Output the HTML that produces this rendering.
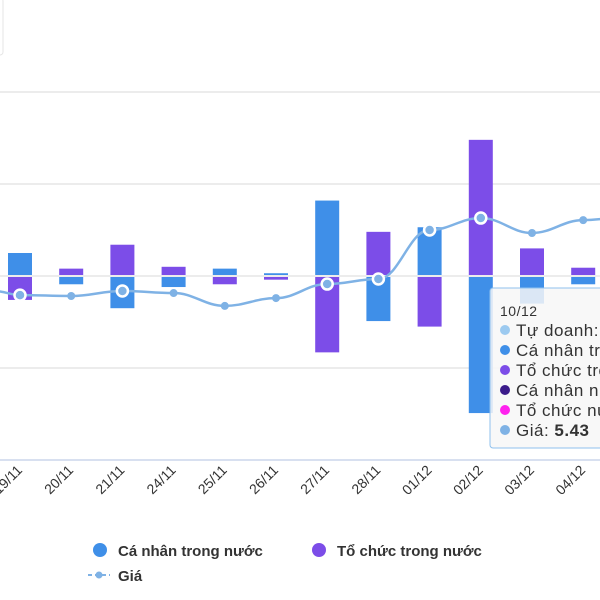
<!DOCTYPE html>
<html><head><meta charset="utf-8"><style>
html,body{margin:0;padding:0;background:#fff;width:600px;height:600px;overflow:hidden}
svg{display:block;font-family:"Liberation Sans",sans-serif}
</style></head><body>
<svg id="chart" width="600" height="600">
<rect x="-5" y="-2" width="8" height="57" rx="3" fill="#fff" stroke="#e6e6e6"/>
<g id="grid"></g><g id="bars"></g><g id="line"></g><g id="xlabels"></g>
<g>
<rect x="490" y="288" width="120" height="160" rx="3" fill="rgba(247,247,247,0.85)" stroke="#8fc1ee" stroke-width="1"/>
<text x="500" y="316" font-size="14" fill="#333" letter-spacing="0.5">10/12</text>
<circle cx="505" cy="330" r="5" fill="#9ccaf0"/><text x="516" y="336" font-size="17" fill="#333" letter-spacing="0.5">Tự doanh:</text>
<circle cx="505" cy="350" r="5" fill="#3f8fe8"/><text x="516" y="356" font-size="17" fill="#333" letter-spacing="0.5">Cá nhân trong</text>
<circle cx="505" cy="370" r="5" fill="#7c4de8"/><text x="516" y="376" font-size="17" fill="#333" letter-spacing="0.5">Tổ chức trong</text>
<circle cx="505" cy="390" r="5" fill="#3a1a8a"/><text x="516" y="396" font-size="17" fill="#333" letter-spacing="0.5">Cá nhân nước</text>
<circle cx="505" cy="410" r="5" fill="#ff22ee"/><text x="516" y="416" font-size="17" fill="#333" letter-spacing="0.5">Tổ chức nước</text>
<circle cx="505" cy="430" r="5" fill="#7fb2e5"/><text x="516" y="436" font-size="17" fill="#333" letter-spacing="0.5">Giá: <tspan font-weight="bold">5.43</tspan></text>
</g>
<g>
<g><circle cx="100" cy="550" r="7" fill="#3f8fe8"/><text x="118" y="556" font-size="15" font-weight="bold" fill="#333">Cá nhân trong nước</text></g>
<g><circle cx="319" cy="550" r="7" fill="#7c4de8"/><text x="337" y="556" font-size="15" font-weight="bold" fill="#333">Tổ chức trong nước</text></g>
<g><line x1="88" y1="575" x2="110" y2="575" stroke="#7fb2e5" stroke-width="2" stroke-dasharray="4,3"/><circle cx="99" cy="575" r="3.5" fill="#7fb2e5"/><text x="118" y="581" font-size="15" font-weight="bold" fill="#333">Giá</text></g>
</g>
</svg>
<script>
const categories=["19/11","20/11","21/11","24/11","25/11","26/11","27/11","28/11","01/12","02/12","03/12","04/12"];
const caNhan=[2.5,-0.9,-3.5,-1.2,0.8,0.3,8.2,-4.9,5.3,-14.9,-3.0,-0.9];
const toChuc=[-2.6,0.8,3.4,1.0,-0.9,-0.4,-8.3,4.8,-5.5,14.8,3.0,0.9];
const gia=[4.817,4.813,4.835,4.826,4.770,4.804,4.865,4.887,5.100,5.152,5.087,5.143];
const hollow=[true,false,true,false,false,false,true,true,true,true,false,false];
const yTicks=[-20,-10,0,10,20];
const NS="http://www.w3.org/2000/svg";
function xPos(i){return 20+i*51.2;}
function yVal(v){return 276-v*9.2;}
function yPrice(p){return 276-(p-4.9)*230;}
function mk(t,a,p){const e=document.createElementNS(NS,t);for(const k in a)e.setAttribute(k,a[k]);p.appendChild(e);return e;}
const grid=document.getElementById('grid');
yTicks.forEach(t=>{const y=yVal(t);
 const l=mk('line',{x1:0,x2:600,y1:y,y2:y,stroke:t===-20?'#ccd6eb':'#e6e6e6','stroke-width':1.5},grid);
 
 });
const bars=document.getElementById('bars');
function bar(i,v,c,name){const y0=yVal(0),y1=yVal(v);
 const r=mk('rect',{x:xPos(i)-12,y:Math.min(y0,y1)+(v>0?0:1),width:24,height:Math.max(1,Math.abs(y1-y0)-1),fill:c},bars);
 
 }
categories.forEach((c,i)=>{bar(i,caNhan[i],'#3f8fe8','bar-ca-nhan');bar(i,toChuc[i],'#7c4de8','bar-to-chuc');});
const lineG=document.getElementById('line');
const pts=gia.map((p,i)=>[xPos(i),yPrice(p)]);
let all=[[pts[0][0]-25,yPrice(gia[0])-4]].concat(pts).concat([[xPos(12),yPrice(5.16)]]);
let d='M'+all[0][0]+','+all[0][1];
for(let i=1;i<all.length;i++){const p0=all[i-1],p1=all[i],dx=(p1[0]-p0[0])/2.5;d+=` C${p0[0]+dx},${p0[1]} ${p1[0]-dx},${p1[1]} ${p1[0]},${p1[1]}`;}
const path=mk('path',{d:d,fill:'none',stroke:'#7fb2e5','stroke-width':2.5},lineG);


pts.forEach((p,i)=>{const c=hollow[i]?mk('circle',{cx:p[0],cy:p[1],r:5.5,fill:'#7fb2e5',stroke:'#fff','stroke-width':2.5},lineG):mk('circle',{cx:p[0],cy:p[1],r:4,fill:'#7fb2e5'},lineG);
 
 });
const xl=document.getElementById('xlabels');
categories.forEach((c,i)=>{const x=xPos(i)+3,y=471;
 const t=mk('text',{x:x,y:y,'text-anchor':'end','font-size':14,fill:'#333',transform:`rotate(-45 ${x} ${y})`},xl);
 t.textContent=c;
 
 });
</script>
</body></html>
